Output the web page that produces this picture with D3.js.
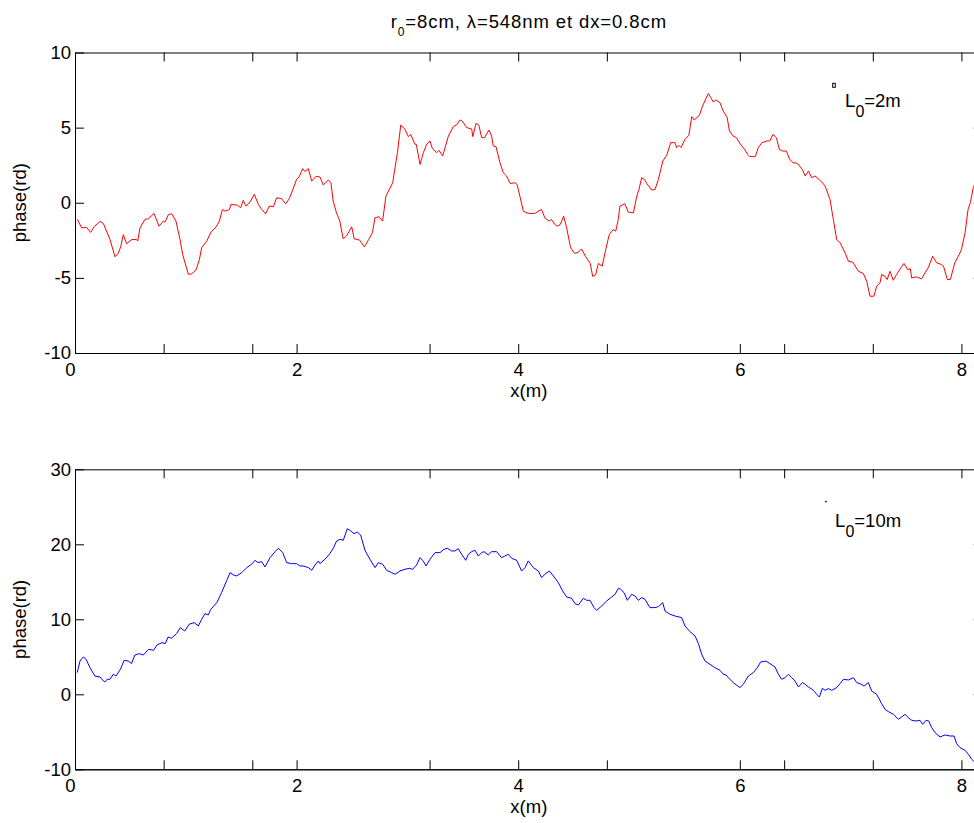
<!DOCTYPE html>
<html>
<head>
<meta charset="utf-8">
<script src="https://cdn.jsdelivr.net/npm/d3@7"></script>
<style>
  body { margin: 0; background: #fff; }
  text { font-family: "Liberation Sans", Arial, sans-serif; }
</style>
</head>
<body>
<svg id="fig" width="974" height="823"></svg>
<script>
// Phase, L0 = 2m (courbe rouge)
const xRouge = [0.021,0.060,0.105,0.141,0.175,0.226,0.256,0.316,0.361,0.391,0.412,0.436,0.466,0.511,0.557,0.566,0.587,0.632,0.662,0.713,0.758,0.797,0.812,0.842,0.872,0.911,0.948,0.972,1.023,1.053,1.092,1.122,1.143,1.188,1.227,1.272,1.303,1.330,1.354,1.393,1.408,1.465,1.495,1.519,1.543,1.579,1.618,1.655,1.685,1.721,1.754,1.790,1.820,1.865,1.901,1.934,1.961,2.000,2.022,2.055,2.076,2.106,2.136,2.175,2.211,2.241,2.286,2.310,2.330,2.360,2.390,2.420,2.450,2.497,2.520,2.570,2.611,2.650,2.684,2.707,2.743,2.776,2.806,2.867,2.910,2.940,2.978,3.008,3.030,3.068,3.080,3.114,3.144,3.174,3.204,3.225,3.264,3.285,3.318,3.370,3.414,3.444,3.475,3.495,3.535,3.580,3.590,3.620,3.645,3.670,3.695,3.736,3.760,3.775,3.800,3.835,3.865,3.895,3.926,3.970,3.990,4.015,4.046,4.090,4.150,4.210,4.240,4.280,4.300,4.330,4.353,4.380,4.410,4.437,4.473,4.510,4.540,4.572,4.610,4.650,4.672,4.700,4.723,4.758,4.790,4.822,4.858,4.880,4.903,4.918,4.963,4.993,5.040,5.070,5.090,5.114,5.140,5.160,5.205,5.235,5.265,5.305,5.340,5.376,5.415,5.430,5.450,5.470,5.505,5.540,5.566,5.588,5.635,5.664,5.694,5.716,5.738,5.760,5.784,5.820,5.850,5.886,5.906,5.940,5.970,6.000,6.047,6.070,6.090,6.140,6.167,6.200,6.243,6.270,6.300,6.330,6.357,6.387,6.420,6.450,6.480,6.520,6.564,6.590,6.620,6.648,6.680,6.740,6.770,6.814,6.844,6.874,6.905,6.950,6.980,7.020,7.070,7.115,7.145,7.175,7.210,7.235,7.265,7.280,7.310,7.330,7.355,7.385,7.415,7.447,7.482,7.515,7.540,7.550,7.595,7.640,7.670,7.700,7.740,7.777,7.820,7.840,7.873,7.900,7.940,7.980,8.000,8.033,8.060,8.080,8.107,8.150,8.190];
const phaseRouge = [-1.1,-1.67,-1.64,-1.97,-1.58,-1.24,-1.38,-2.45,-3.6,-3.35,-2.95,-2.13,-2.73,-2.45,-2.45,-2.55,-1.67,-1.1,-1.07,-0.71,-1.56,-1.22,-1.29,-0.8,-0.73,-1.22,-2.45,-3.45,-4.76,-4.73,-4.47,-3.8,-3.0,-2.56,-1.96,-1.62,-1.22,-0.45,-0.56,-0.45,-0.11,-0.16,-0.33,0.16,-0.22,0.04,0.56,-0.11,-0.45,-0.73,-0.22,-0.27,0.33,0.27,-0.07,0.27,0.78,1.56,1.71,2.27,2.07,2.27,1.44,1.76,1.71,1.18,1.51,1.33,0.11,-0.67,-1.22,-2.4,-2.22,-1.6,-2.4,-2.49,-2.94,-2.45,-2.0,-1.0,-0.93,-1.22,0.44,1.33,3.33,5.17,4.89,4.4,4.55,3.89,3.89,2.55,3.33,3.89,4.11,3.6,3.33,3.49,3.11,4.44,5.07,5.18,5.51,5.44,5.0,4.91,4.4,5.29,5.16,4.33,4.33,4.84,4.44,3.78,3.73,2.67,2.0,1.78,1.29,1.33,1.22,0.44,-0.56,-0.71,-0.71,-0.44,-1.0,-1.22,-1.11,-1.44,-1.56,-1.44,-0.89,-1.67,-3.0,-3.38,-3.29,-3.08,-3.6,-4.04,-4.9,-4.78,-4.04,-4.22,-3.11,-2.11,-1.78,-1.89,-1.11,-0.22,-0.07,-0.62,-0.67,0.44,0.89,1.67,1.55,1.29,0.84,0.89,1.55,2.78,3.15,4.0,4.0,3.67,3.82,3.67,4.22,4.49,5.73,5.51,5.82,6.44,6.93,7.27,7.0,6.71,6.84,6.67,6.11,5.67,4.78,4.44,4.33,3.95,3.51,3.22,3.07,3.07,3.67,4.0,4.11,4.11,4.55,4.33,3.55,3.44,3.44,2.89,2.67,2.62,2.22,1.78,2.11,1.67,1.78,1.38,1.11,0.22,-1.11,-2.44,-2.67,-3.33,-3.89,-3.96,-4.56,-4.71,-5.22,-6.22,-6.22,-5.56,-5.33,-4.78,-4.89,-5.11,-4.56,-5.16,-4.78,-4.4,-4.04,-4.44,-4.4,-5.0,-4.93,-5.07,-4.67,-4.33,-3.56,-4.0,-4.11,-4.27,-5.11,-5.11,-4.0,-3.44,-3.11,-2.0,-0.44,0.0,1.0,1.8,2.5];

// Phase, L0 = 10m (courbe bleue)
const xBleu = [0.020,0.045,0.075,0.100,0.135,0.180,0.226,0.256,0.270,0.290,0.316,0.346,0.370,0.400,0.410,0.443,0.480,0.510,0.540,0.580,0.617,0.663,0.710,0.740,0.785,0.815,0.840,0.870,0.917,0.950,0.990,1.030,1.075,1.113,1.143,1.173,1.203,1.225,1.280,1.323,1.370,1.400,1.430,1.459,1.505,1.550,1.594,1.625,1.650,1.685,1.715,1.760,1.806,1.835,1.875,1.910,1.955,2.000,2.030,2.060,2.107,2.136,2.166,2.196,2.210,2.256,2.300,2.331,2.361,2.391,2.421,2.458,2.488,2.518,2.548,2.578,2.617,2.662,2.708,2.738,2.777,2.813,2.858,2.888,2.933,2.978,3.017,3.047,3.083,3.113,3.143,3.168,3.204,3.249,3.294,3.330,3.360,3.399,3.429,3.459,3.489,3.526,3.550,3.580,3.610,3.640,3.670,3.691,3.730,3.760,3.805,3.850,3.880,3.911,3.941,3.986,4.031,4.061,4.091,4.136,4.181,4.211,4.241,4.281,4.317,4.362,4.401,4.437,4.482,4.513,4.543,4.588,4.618,4.648,4.684,4.708,4.753,4.798,4.844,4.874,4.904,4.925,4.955,4.985,5.024,5.054,5.084,5.114,5.144,5.189,5.235,5.265,5.304,5.325,5.370,5.415,5.475,5.505,5.550,5.596,5.626,5.656,5.686,5.731,5.776,5.821,5.851,5.875,5.896,5.941,6.001,6.031,6.077,6.122,6.158,6.188,6.236,6.272,6.318,6.348,6.378,6.408,6.438,6.468,6.498,6.529,6.565,6.589,6.619,6.664,6.694,6.718,6.745,6.769,6.799,6.829,6.874,6.904,6.935,6.980,7.025,7.055,7.085,7.121,7.160,7.190,7.235,7.280,7.310,7.341,7.386,7.431,7.461,7.491,7.521,7.551,7.590,7.626,7.650,7.680,7.705,7.732,7.762,7.807,7.852,7.897,7.933,7.957,7.987,8.033,8.063,8.093,8.108,8.150,8.190];
const phaseBleu = [2.89,4.44,4.98,4.67,3.55,2.44,2.31,1.78,1.64,2.0,2.0,2.67,2.44,3.11,3.33,4.53,4.44,4.09,5.24,5.42,5.24,6.0,5.87,6.58,6.89,6.76,7.64,7.47,8.09,8.89,8.44,9.33,9.56,9.11,10.0,10.76,10.58,11.33,12.22,13.56,15.2,16.22,15.91,15.78,16.22,16.89,17.33,17.87,17.56,17.69,16.98,18.22,19.02,19.47,18.89,17.56,17.42,17.42,17.11,17.11,16.89,16.53,17.24,17.78,17.42,18.0,18.76,19.47,20.44,20.67,20.53,22.09,21.78,21.42,21.64,21.24,19.2,18.0,16.89,17.56,17.33,16.53,16.22,16.0,16.44,16.67,16.8,16.67,17.24,18.22,17.78,17.11,18.0,18.89,18.89,19.33,19.47,19.11,19.11,19.42,18.67,17.87,18.67,19.02,19.2,18.44,18.89,19.02,18.58,19.02,19.02,18.22,18.44,18.67,18.13,17.87,16.44,16.89,17.78,16.89,16.44,15.56,16.0,16.44,15.78,14.89,13.78,12.98,12.8,12.09,11.91,12.8,12.53,12.53,11.56,11.2,11.78,12.44,12.98,13.33,14.13,14.0,13.56,12.53,13.33,13.11,12.53,12.89,12.67,11.56,11.56,11.69,12.22,11.11,10.67,10.44,10.22,9.11,8.36,7.78,6.76,5.33,4.44,4.0,3.55,3.2,2.67,2.58,2.22,1.56,0.89,1.33,2.44,2.89,3.55,4.31,4.44,4.09,3.64,2.67,2.0,2.22,2.67,2.22,1.78,0.98,1.56,1.33,0.98,0.53,0.0,-0.36,0.8,0.53,0.76,0.53,0.89,1.42,2.0,1.91,2.22,1.56,1.42,1.11,1.56,0.44,0.0,-1.24,-2.0,-2.31,-2.67,-3.33,-3.02,-2.67,-3.11,-3.47,-3.56,-3.47,-4.0,-3.47,-3.56,-4.44,-5.11,-5.69,-5.42,-5.56,-5.56,-6.58,-7.11,-7.47,-8.0,-8.67,-8.89,-9.3,-9.6];

// Graduations
const xTicks = [0, 2, 4, 6, 8];
const xTicksMineurs = [0.8, 1.6, 3.2, 4.8, 6.4, 7.2];
const yTicksHaut = [-10, -5, 0, 5, 10];
const yTicksHautDroite = [-5, 0, 5];
const yTicksBas = [-10, 0, 10, 20, 30];
const yTicksBasDroite = [0, 10, 20];

const svg = d3.select("#fig");
const police = 18.5;

// Echelle commune des abscisses (0 a 8.192 m, 1024 points de 0.8cm)
var x = d3.scaleLinear().domain([0, 8.192]).range([75, 982.7]);

function panneau(haut, bas, domaineY, ticksY, ticksYDroite, xs, ys, couleur, id) {
    var y = d3.scaleLinear().domain(domaineY).range([bas, haut]);
    var g = svg.append("g");

    g.append("clipPath").attr("id", "clip" + id)
      .append("rect")
      .attr("x", x.range()[0]).attr("y", haut)
      .attr("width", x.range()[1] - x.range()[0]).attr("height", bas - haut);

    var points = xs.map(function(d, i){ return [d, ys[i]]; });
    g.append("path")
      .datum(points)
      .attr("clip-path", "url(#clip" + id + ")")
      .attr("fill", "none")
      .attr("stroke", couleur)
      .attr("stroke-width", 1)
      .attr("stroke-linejoin", "round")
      .attr("d", d3.line().x(function(d){ return x(d[0]) }).y(function(d){ return y(d[1]) }));

    // axe du bas (graduations vers l'interieur)
    var axeBas = g.append("g").attr("transform", "translate(0," + bas + ")")
      .call(d3.axisBottom(x).tickValues(xTicks).tickSize(-9).tickSizeOuter(0).tickPadding(10)
        .tickFormat(function(d){ return String(d) }));
    axeBas.selectAll("text").filter(function(d){ return d === 0 }).attr("dx", -5);
    g.append("g").attr("transform", "translate(0," + bas + ")")
      .call(d3.axisBottom(x).tickValues(xTicksMineurs).tickSize(-9).tickSizeOuter(0).tickFormat(""));
    g.append("g").attr("transform", "translate(0," + haut + ")")
      .call(d3.axisTop(x).tickValues(xTicks.concat(xTicksMineurs)).tickSize(-9).tickSizeOuter(0).tickFormat(""));

    g.append("g").attr("transform", "translate(" + x.range()[0] + ",0)")
      .call(d3.axisLeft(y).tickValues(ticksY).tickSize(-9).tickSizeOuter(0).tickPadding(4)
        .tickFormat(function(d){ return String(d) }));
    g.append("g").attr("transform", "translate(" + x.range()[1] + ",0)")
      .call(d3.axisRight(y).tickValues(ticksYDroite).tickSize(-9).tickSizeOuter(0).tickFormat(""));

    g.selectAll(".tick text")
      .attr("font-size", police)
      .attr("font-family", '"Liberation Sans", Arial, sans-serif')
      .attr("fill", "#000");
    g.selectAll(".domain, .tick line").attr("stroke", "#000").attr("stroke-width", 1);

    // libelles des axes
    g.append("text")
      .attr("x", (x.range()[0] + x.range()[1]) / 2)
      .attr("y", bas + 44)
      .attr("text-anchor", "middle")
      .attr("font-size", police)
      .text("x(m)");
    g.append("text")
      .attr("transform", "translate(26," + (haut + bas) / 2 + ") rotate(-90)")
      .attr("text-anchor", "middle")
      .attr("font-size", police)
      .text("phase(rd)");

    return y;
}

var yHaut = panneau(52.5, 353, [-10, 10], yTicksHaut, yTicksHautDroite, xRouge, phaseRouge, "#ff0000", 1);
var yBas = panneau(469.3, 769.3, [-10, 30], yTicksBas, yTicksBasDroite, xBleu, phaseBleu, "#0000ff", 2);

// Titre
var titre = svg.append("text")
    .attr("x", (x.range()[0] + x.range()[1]) / 2)
    .attr("y", 28.3)
    .attr("text-anchor", "middle")
    .attr("font-size", police)
    .attr("letter-spacing", 0.9);
titre.append("tspan").text("r");
titre.append("tspan").attr("dy", 8).attr("font-size", 12).text("0");
titre.append("tspan").attr("dy", -8).text("=8cm, λ=548nm et dx=0.8cm");

// Legendes
function legende(xv, yv, scaleY, longueur) {
    var t = svg.append("text")
      .attr("x", x(xv)).attr("y", scaleY(yv))
      .attr("font-size", police);
    t.append("tspan").text("L");
    t.append("tspan").attr("dy", 10).attr("font-size", 16).text("0");
    t.append("tspan").attr("dy", -10).text("=" + longueur);
}
legende(6.95, 6.39, yHaut, "2m");
legende(6.86, 22.27, yBas, "10m");

svg.append("rect")
    .attr("x", x(6.838)).attr("y", yHaut(7.95))
    .attr("width", 2.6).attr("height", 4)
    .attr("fill", "none").attr("stroke", "#000").attr("stroke-width", 1);
svg.append("rect")
    .attr("x", x(6.77)).attr("y", yBas(25.8))
    .attr("width", 1.5).attr("height", 1.5)
    .attr("fill", "#000");
</script>
</body>
</html>
